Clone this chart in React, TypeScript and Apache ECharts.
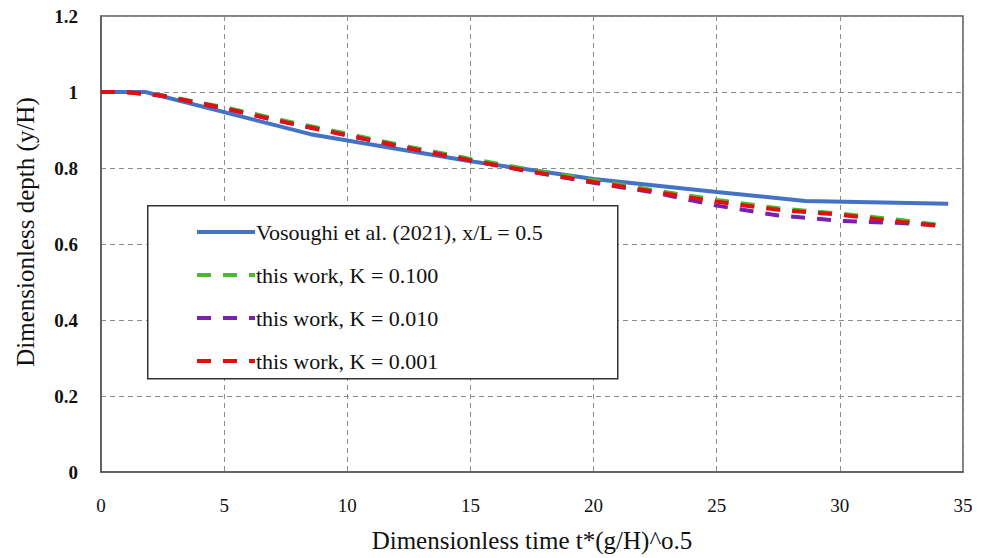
import React, { useEffect, useRef } from "react";
import * as echarts from "echarts";

const xTicks = [0, 5, 10, 15, 20, 25, 30, 35];
const yTicks = [0, 0.2, 0.4, 0.6, 0.8, 1, 1.2];

const tBlue = [0, 1.8, 8.5, 15, 20, 25, 28.6, 34.4];
const yBlue = [1, 1, 0.889, 0.818, 0.771, 0.737, 0.713, 0.706];

const tSim = [0, 1, 2.5, 5, 7.5, 10, 12.5, 15, 17.5, 20, 22.5, 25, 27.5, 30, 32.5, 34.3];
const yK0100 = [1, 1, 0.991, 0.96, 0.924, 0.89, 0.856, 0.824, 0.795, 0.768, 0.741, 0.716, 0.694, 0.68, 0.663, 0.648];
const yK0010 = [1, 1, 0.99, 0.957, 0.92, 0.886, 0.852, 0.82, 0.79, 0.761, 0.735, 0.701, 0.675, 0.661, 0.655, 0.648];
const yK0001 = [1, 1, 0.99, 0.957, 0.92, 0.886, 0.852, 0.82, 0.79, 0.763, 0.737, 0.711, 0.69, 0.677, 0.658, 0.646];

const names = [
  "Vosoughi et al. (2021), x/L = 0.5",
  "this work, K = 0.100",
  "this work, K = 0.010",
  "this work, K = 0.001",
];

const FONT = "'Liberation Serif', 'DejaVu Serif', serif";

export default function App() {
  const ref = useRef<HTMLDivElement>(null);
  useEffect(() => {
    if (!ref.current) return;
    const chart = echarts.init(ref.current, null, { renderer: "svg" });
    const zip = (xs: number[], ys: number[]) => xs.map((x, i) => [x, ys[i]]);
    const dash = [14, 12];
    chart.setOption({
      animation: false,
      backgroundColor: "#ffffff",
      textStyle: { fontFamily: FONT },
      grid: { left: 101, top: 16, right: 26, bottom: 83, show: true, borderColor: "#595959", borderWidth: 1.5 },
      xAxis: {
        type: "value",
        min: 0,
        max: 35,
        interval: 5,
        name: "Dimensionless time t*(g/H)^o.5",
        nameLocation: "middle",
        nameGap: 56,
        nameTextStyle: { fontFamily: FONT, fontSize: 25, color: "#111" },
        axisLine: { show: true, lineStyle: { color: "#595959", width: 1.5 } },
        axisTick: { show: false },
        axisLabel: { margin: 24, fontFamily: FONT, fontSize: 19, color: "#111" },
        splitLine: { show: true, lineStyle: { color: "#8c8c8c", type: [5, 4], width: 1 } },
      },
      yAxis: {
        type: "value",
        min: 0,
        max: 1.2,
        interval: 0.2,
        name: "Dimensionless depth (y/H)",
        nameLocation: "middle",
        nameGap: 63,
        nameTextStyle: { fontFamily: FONT, fontSize: 25, color: "#111", padding: [0, 0, 0, 24] },
        axisLine: { show: true, lineStyle: { color: "#595959", width: 1.5 } },
        axisTick: { show: false },
        axisLabel: {
          margin: 23,
          fontFamily: FONT,
          fontSize: 19,
          fontWeight: "bold",
          color: "#111",
          formatter: (v: number) => String(Math.round(v * 10) / 10),
        },
        splitLine: { show: true, lineStyle: { color: "#8c8c8c", type: [5, 4], width: 1 } },
      },
      legend: {
        orient: "vertical",
        left: 190,
        top: 215,
        itemWidth: 58,
        itemHeight: 14,
        itemGap: 19,
        itemStyle: { opacity: 0 },
        lineStyle: { width: 4 },
        textStyle: { fontFamily: FONT, fontSize: 22, color: "#111", lineHeight: 24, padding: [0, 0, 0, -4] },
        data: names,
        z: 10,
      },
      graphic: [
        {
          type: "rect",
          left: 147,
          top: 205,
          shape: { width: 470, height: 173 },
          style: { fill: "#ffffff", stroke: "#333333", lineWidth: 1.5 },
          z: 5,
        },
      ],
      series: [
        {
          name: names[0],
          type: "line",
          data: zip(tBlue, yBlue),
          showSymbol: false,
          symbol: "none",
          lineStyle: { color: "#4472C4", width: 4 },
          itemStyle: { color: "#4472C4" },
        },
        {
          name: names[1],
          type: "line",
          data: zip(tSim, yK0100),
          showSymbol: false,
          symbol: "none",
          lineStyle: { color: "#4DB82E", width: 4, type: dash },
          itemStyle: { color: "#4DB82E" },
        },
        {
          name: names[2],
          type: "line",
          data: zip(tSim, yK0010),
          showSymbol: false,
          symbol: "none",
          lineStyle: { color: "#7A1FB0", width: 4, type: dash },
          itemStyle: { color: "#7A1FB0" },
        },
        {
          name: names[3],
          type: "line",
          data: zip(tSim, yK0001),
          showSymbol: false,
          symbol: "none",
          lineStyle: { color: "#E01010", width: 4, type: dash },
          itemStyle: { color: "#E01010" },
        },
      ],
    });
    return () => chart.dispose();
  }, []);
  return <div ref={ref} style={{ position: "fixed", left: 0, top: 0, width: 989, height: 558 }} />;
}
